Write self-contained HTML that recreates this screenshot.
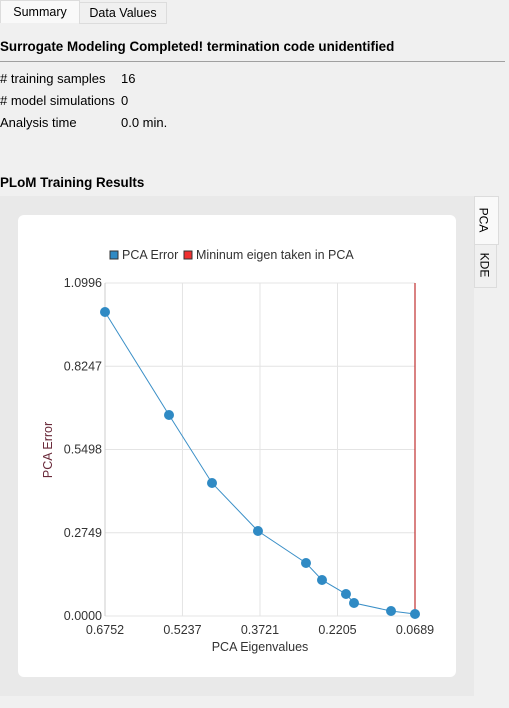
<!DOCTYPE html>
<html><head><meta charset="utf-8"><style>
body{margin:0;width:509px;height:708px;background:#f0f0f0;font-family:"Liberation Sans",sans-serif;font-size:12.5px;color:#000;position:relative;overflow:hidden}
.abs{position:absolute}
</style></head><body>
<div class="abs" style="left:0;top:0;width:78px;height:22px;background:#f9f9f9;border:1px solid #dcdcdc;border-bottom:none;text-align:center;line-height:22px">Summary</div>
<div class="abs" style="left:79px;top:2px;width:86px;height:20px;background:#f0f0f0;border:1px solid #dcdcdc;text-align:center;line-height:20px">Data Values</div>
<div class="abs" style="left:0;top:39px;font-weight:bold;font-size:13.4px">Surrogate Modeling Completed! termination code unidentified</div>
<div class="abs" style="left:0;top:61px;width:505px;height:1px;background:#a0a0a0"></div>
<div class="abs" style="left:0;top:71px;font-size:13px"># training samples</div>
<div class="abs" style="left:121px;top:71px;font-size:13px">16</div>
<div class="abs" style="left:0;top:93px;font-size:13px"># model simulations</div>
<div class="abs" style="left:121px;top:93px;font-size:13px">0</div>
<div class="abs" style="left:0;top:115px;font-size:13px">Analysis time</div>
<div class="abs" style="left:121px;top:115px;font-size:13px">0.0 min.</div>
<div class="abs" style="left:0;top:175px;font-weight:bold;font-size:13.4px">PLoM Training Results</div>
<div class="abs" style="left:0;top:196px;width:474px;height:500px;background:#e9e9e9"></div>
<div class="abs" style="left:474px;top:196px;width:23px;height:47px;background:#f9f9f9;border:1px solid #dcdcdc"><div style="transform:rotate(90deg);position:absolute;left:-4px;top:16px;font-size:12px">PCA</div></div>
<div class="abs" style="left:474px;top:244px;width:21px;height:42px;background:#f0f0f0;border:1px solid #dcdcdc"><div style="transform:rotate(90deg);position:absolute;left:-3px;top:13px;font-size:12px">KDE</div></div>
<div class="abs" style="left:18px;top:215px;width:438px;height:462px;background:#fff;border-radius:6px"></div>
<svg class="abs" style="left:0;top:0" width="509" height="708" id="chart"></svg>
<script>
const xTicks=["0.6752","0.5237","0.3721","0.2205","0.0689"];
const yTicks=["0.0000","0.2749","0.5498","0.8247","1.0996"];
const eigen=[0.6752,0.5500,0.4659,0.3760,0.2821,0.2508,0.2039,0.1882,0.1158,0.0689];
const pcaError=[1.0038,0.6637,0.4392,0.2807,0.1750,0.1189,0.0726,0.0429,0.0165,0.0066];
const minEigen=[0.0689];
const X0=105,X1=415,Y0=616,Y1=283,xMax=0.6752,xMin=0.0689,yMax=1.0996;
const sx=v=>X0+(xMax-v)/(xMax-xMin)*(X1-X0);
const sy=v=>Y0-v/yMax*(Y0-Y1);
const svg=document.getElementById('chart');const NS='http://www.w3.org/2000/svg';
function mk(t,a,txt){const e=document.createElementNS(NS,t);for(const k in a)e.setAttribute(k,a[k]);if(txt!=null)e.textContent=txt;svg.appendChild(e);return e;}
xTicks.forEach(t=>{const x=sx(+t);
const g=mk('line',{x1:x,x2:x,y1:Y1,y2:Y0,stroke:'#e4e4e4','stroke-width':1});

const l=mk('text',{x:x,y:Y0+18,'text-anchor':'middle','font-size':12.5,fill:'#333','font-family':'Liberation Sans'},t);
});
yTicks.forEach(t=>{const y=sy(+t);
const g=mk('line',{x1:X0,x2:X1,y1:y,y2:y,stroke:'#e4e4e4','stroke-width':1});

const l=mk('text',{x:X0-3,y:y+4,'text-anchor':'end','font-size':12.5,fill:'#333','font-family':'Liberation Sans'},t);
});
const ax=mk('line',{x1:X0,x2:X0,y1:Y1,y2:Y0,stroke:'#ccc'});
minEigen.forEach(v=>{const r=mk('line',{x1:sx(v),x2:sx(v),y1:Y1,y2:Y0,stroke:'#c03030','stroke-width':1.2});
});
const pl=mk('polyline',{points:eigen.map((v,i)=>sx(v)+','+sy(pcaError[i])).join(' '),fill:'none',stroke:'#3a8fc7','stroke-width':1});

eigen.forEach((v,i)=>{const c=mk('circle',{cx:sx(v),cy:sy(pcaError[i]),r:5,fill:'#2f8ac4'});
});
const xt=mk('text',{x:(X0+X1)/2,y:651,'text-anchor':'middle','font-size':12.5,fill:'#333','font-family':'Liberation Sans'},'PCA Eigenvalues');

const yt=mk('text',{x:0,y:0,'text-anchor':'middle','font-size':12.5,fill:'#6a2a3a','font-family':'Liberation Sans',transform:'translate(52,450) rotate(-90)'},'PCA Error');

const s1=mk('rect',{x:110,y:251,width:8,height:8,fill:'#2f8ac4',stroke:'#333','stroke-width':1});

const t1=mk('text',{x:122,y:259,'font-size':12.5,fill:'#333','font-family':'Liberation Sans'},'PCA Error');

const s2=mk('rect',{x:184,y:251,width:8,height:8,fill:'#f03030',stroke:'#333','stroke-width':1});

const t2=mk('text',{x:196,y:259,'font-size':12.5,fill:'#333','font-family':'Liberation Sans'},'Mininum eigen taken in PCA');

</script>
</body></html>
